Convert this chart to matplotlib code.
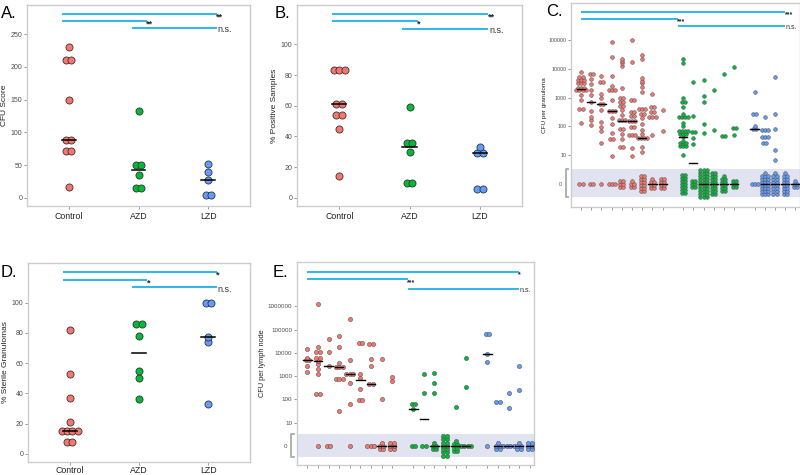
import numpy as np
import matplotlib.pyplot as plt
from matplotlib import transforms

plt.rcParams['font.family'] = ['Liberation Sans', 'DejaVu Sans']

RED, GREEN, BLUE = '#F8766D', '#00BA38', '#619CFF'
SIG = '#1BB2E8'
FRAME = '#CCCCCC'
group_colors = [RED, GREEN, BLUE]

groups = ['Control', 'AZD', 'LZD']

# A. CFU score per animal
cfu_score = [
    [231, 211, 211, 149, 89, 89, 72, 72, 17],
    [132, 51, 51, 35, 16, 16],
    [52, 40, 27, 5, 5],
]
# B. % positive samples
pct_positive = [
    [83, 83, 83, 61, 61, 54, 54, 45, 14],
    [59, 36, 36, 30, 10, 10],
    [33, 29, 29, 6, 6],
]
# D. % sterile granulomas
pct_sterile = [
    [82, 53, 37, 21, 15, 15, 15, 15, 7.5, 7.5],
    [86, 86, 78, 55, 50, 36.5],
    [100, 100, 77, 74, 33],
]
sig_a = ['**', '**', 'n.s.']
sig_b = ['**', '*', 'n.s.']
sig_c = ['***', '***', 'n.s.']
sig_d = ['*', '*', 'n.s.']
sig_e = ['*', '***', 'n.s.']

# C. CFU per granuloma, one list per animal (Control 9, AZD 6, LZD 5)
gran_group_sizes = [9, 6, 5]
gran_cfu = [
    [7800, 5400, 5400, 4200, 4200, 4200, 3300, 3300, 3300, 2100, 2100, 2100,
     1900, 1900, 1900, 1900, 1200, 800, 400, 400, 130],
    [6500, 6500, 4400, 3000, 1900, 1200, 700, 350, 210, 170, 115],
    [5800, 3500, 3500, 1300, 950, 600, 600, 370, 140, 98, 69, 26],
    [89000, 26000, 5800, 2600, 1900, 1900, 1900, 830, 350, 350, 350, 190,
     120, 60, 35, 35, 9.5],
    [23000, 19500, 16000, 13000, 2100, 1000, 1000, 720, 720, 510, 510, 370,
     250, 165, 165, 165, 80, 80, 55, 35, 18.6, 18.6],
    [100000, 17000, 800, 800, 320, 320, 230, 230, 155, 155, 155, 98, 98,
     49, 49, 49, 17, 9.5],
    [31000, 22000, 4800, 3900, 3300, 2300, 1600, 400, 400, 400, 270, 270,
     190, 120, 76, 55, 39, 39, 39, 39, 19.5, 13],
    [1350, 470, 470, 320, 320, 210, 210, 210, 51],
    [370, 71],
    [22000, 16000, 950, 720, 720, 470, 270, 210, 210, 210, 210, 135, 100,
     71, 71, 71, 71, 55, 55, 55, 42, 32, 26, 26, 26, 21, 21, 21, 10],
    [3600, 230, 66, 66, 38, 25],
    [4200, 1150, 690, 120, 58],
    [1800, 74],
    [6500, 48, 48],
    [12000, 85, 85, 49],
    [1600, 260, 260, 107, 80, 80],
    [210, 76, 76, 76, 44, 44, 44, 27, 27],
    [5100, 260, 80, 15, 6.8],
    [],
    [],
]
gran_zeros = [2, 2, 1, 3, 6, 5, 12, 7, 8, 14, 6, 30, 16, 11, 6, 3, 22, 15, 15, 5]
gran_median = [2000, 700, 600, 330, 160, 150, 38, 0, 0, 42, 5.5, 0, 0, 0, 0,
               80, 0, 0, 0, 0]

# E. CFU per lymph node, one list per animal
ln_cfu = [
    [14500, 6200, 4800, 4800, 2800, 1500],
    [1200000, 17000, 11000, 11000, 6200, 6200, 4500, 3200, 2000, 1200, 165, 165],
    [38000, 11000, 2700],
    [54000, 17000, 3800, 2500, 2500, 2500, 740, 740, 740, 33],
    [280000, 4900, 1200, 1200, 1200, 490, 66],
    [27000, 27000, 1200, 800, 280, 93, 93],
    [24500, 24500, 5200, 2700, 450, 450],
    [5200, 105],
    [950, 620],
    [62, 62, 37],
    [1200, 195],
    [1400, 520, 180],
    [],
    [49],
    [6200, 350],
    [62000, 62000, 8500, 4200],
    [80, 80],
    [195, 44],
    [2700, 245],
    [],
]
ln_zeros = [0, 1, 2, 0, 1, 0, 3, 5, 6, 2, 2, 5, 14, 7, 4, 1, 5, 4, 5, 6]
ln_median = [4800, 4500, 2700, 2500, 1200, 680, 450, 0, 0, 37, 14, 0, 0, 0, 0,
             8500, 0, 0, 0, 0]


def offsets(n, step):
    return (np.arange(n) - (n - 1) / 2) * step


def style_axes(ax, tick_fs):
    for s in ax.spines.values():
        s.set_color(FRAME)
        s.set_linewidth(1.0)
    ax.tick_params(colors='#888888', length=2, width=0.6, labelsize=tick_fs,
                   labelcolor='#4D4D4D', pad=1.5)


def sig_bars(ax, spans, ys, labels, fs_star, fs_ns, lw):
    for (x0, x1), y, lab in zip(spans, ys, labels):
        ax.plot([x0, x1], [y, y], color=SIG, lw=lw, solid_capstyle='butt',
                clip_on=False, zorder=3)
        if lab == 'n.s.':
            ax.annotate(lab, (x1, y), xytext=(0.5, -0.35 * fs_ns - 0.8),
                        textcoords='offset points', va='baseline', ha='left',
                        fontsize=fs_ns, color='#333333', annotation_clip=False)
        else:
            ax.annotate(lab, (x1, y), xytext=(-0.5, -0.62 * fs_star),
                        textcoords='offset points', va='baseline', ha='left',
                        fontsize=fs_star, fontweight='bold', color='#222222',
                        annotation_clip=False)


def group_panel(rect, data, ylim, yticks, ylabel, sig_ys, sig_labels, step, xpad=2):
    ax = fig.add_axes(rect)
    for i, vals in enumerate(data):
        xc = i + 1
        uniq, counts = np.unique(vals, return_counts=True)
        for v, c in zip(uniq, counts):
            ax.scatter(xc + offsets(c, step), [v] * c, s=26, color=group_colors[i],
                       edgecolor='#333333', linewidth=0.6, zorder=4)
        med = np.median(vals)
        ax.plot([xc - 0.1, xc + 0.1], [med, med], color='black', lw=1.1, zorder=5)
    ax.set_xlim(0.4, 3.6)
    ax.set_ylim(*ylim)
    ax.set_yticks(yticks)
    ax.set_xticks([1, 2, 3])
    ax.set_xticklabels(groups, fontsize=6.3, color='#222222')
    ax.set_ylabel(ylabel, fontsize=6, color='#222222', labelpad=2)
    style_axes(ax, 5)
    ax.tick_params(axis='x', labelsize=6.3, labelcolor='#222222', pad=xpad)
    sig_bars(ax, [(0.9, 3.12), (0.9, 2.12), (1.9, 3.12)], sig_ys, sig_labels,
             6.5, 6.5, 1.3)
    return ax


def log_panel(rect, cfu, zeros, medians, ylim, ntick, ylabel, ylabel_fs, tick_fs,
              step, dy, dot_s, sig_ys, sig_labels):
    ax = fig.add_axes(rect)
    ax.axhspan(-0.46, 0.51, color='#E1E3F1', zorder=0, lw=0)
    positions = []
    start = 1
    for g, size in enumerate(gran_group_sizes):
        positions += [(start + k, g) for k in range(size)]
        start += size + 1
    for (xc, g), vals, nz, med in zip(positions, cfu, zeros, medians):
        col = group_colors[g]
        if vals:
            uniq, counts = np.unique(vals, return_counts=True)
            for v, c in zip(uniq, counts):
                ax.scatter(xc + offsets(c, step), [np.log10(v)] * c, s=dot_s,
                           color=col, edgecolor='#555555', linewidth=0.4, zorder=4)
        if nz:
            w = nz if nz <= 4 else (2 if nz <= 16 else 3)
            nrows = int(np.ceil(nz / w))
            rows_y = offsets(nrows, dy)
            left = nz
            for r in range(nrows):
                k = min(w, left)
                left -= k
                ax.scatter(xc + offsets(k, step), [rows_y[r]] * k, s=dot_s,
                           color=col, edgecolor='#555555', linewidth=0.4, zorder=4)
        my = 0 if med == 0 else np.log10(med)
        ax.plot([xc - 0.4, xc + 0.4], [my, my], color='black', lw=1.0, zorder=5)
    ax.set_xlim(positions[0][0] - 0.98, positions[-1][0] + 0.4)
    ax.set_ylim(*ylim)
    ax.set_xticks([p for p, _ in positions])
    ax.set_xticklabels([])
    ax.set_yticks(range(ntick + 1))
    ax.set_yticklabels(['0'] + [str(10 ** k) for k in range(1, ntick + 1)])
    style_axes(ax, tick_fs)
    t0 = ax.yaxis.get_major_ticks()[0]
    t0.tick1line.set_visible(False)
    t0.set_pad(5)
    ax.set_ylabel(ylabel, fontsize=ylabel_fs, color='#222222', labelpad=1)
    tr = transforms.blended_transform_factory(ax.transAxes, ax.transData)
    ax.plot([-0.012, -0.024, -0.024, -0.012], [-0.46, -0.46, 0.51, 0.51],
            color='#AAAAAA', lw=1.3, transform=tr, clip_on=False)
    sig_bars(ax, [(1, 21), (1, 10.5), (10.5, 21)], sig_ys, sig_labels,
             5, 5, 1.3)
    return ax


fig = plt.figure(figsize=(8, 4.75), dpi=100)
W, H = 800, 475

group_panel([27 / W, 1 - 206 / H, 223 / W, 201 / H], cfu_score, (-12.2, 294.3),
            [0, 50, 100, 150, 200, 250], 'CFU Score', [280, 270, 259], sig_a, 0.077)
group_panel([297 / W, 1 - 206 / H, 225 / W, 201 / H], pct_positive, (-5.3, 125.6),
            [0, 20, 40, 60, 80, 100], '% Positive Samples', [120, 115, 110], sig_b, 0.08)
group_panel([28 / W, 1 - 462 / H, 222 / W, 199 / H], pct_sterile, (-5.4, 126.2),
            [0, 20, 40, 60, 80, 100], '% Sterile Granulomas', [120, 115, 110], sig_d,
            0.077, xpad=0.8)

log_panel([571 / W, 1 - 207 / H, 228.5 / W, 204 / H], gran_cfu, gran_zeros, gran_median,
          (-0.81, 6.3), 5, 'CFU per granuloma', 4.6, 3.8, 0.3, 0.105, 7,
          [5.99, 5.74, 5.5], sig_c)
log_panel([297 / W, 1 - 465 / H, 237 / W, 203 / H], ln_cfu, ln_zeros, ln_median,
          (-0.82, 7.9), 6, 'CFU per lymph node', 5.3, 4.5, 0.33, 0.14, 9,
          [7.48, 7.15, 6.75], sig_e)

for lab, x, y in [('A.', 0.5, 18.3), ('B.', 275, 18.3), ('C.', 546.5, 16),
                  ('D.', 0.5, 276.7), ('E.', 272.5, 276.7)]:
    fig.text(x / W, 1 - y / H, lab, fontsize=12, va='baseline', ha='left')

fig.savefig('out.png', dpi=100)
